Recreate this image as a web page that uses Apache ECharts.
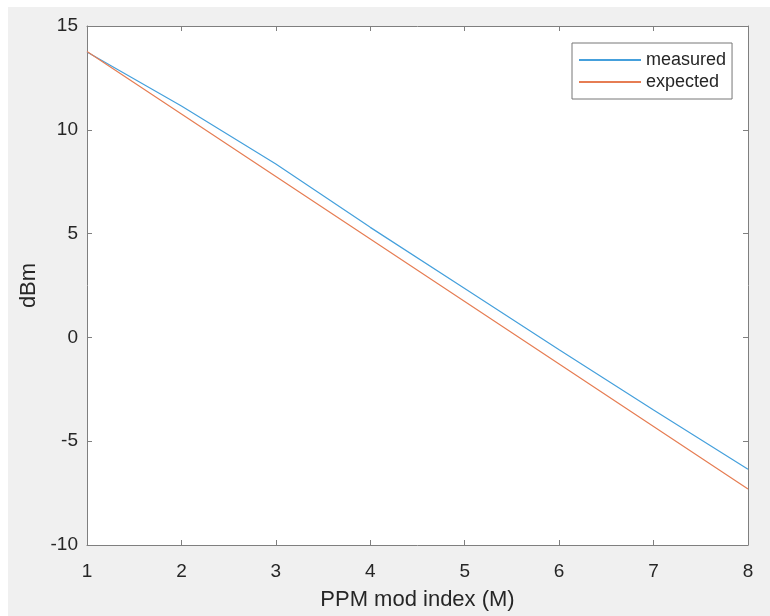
<!DOCTYPE html>
<html>
<head>
<meta charset="utf-8">
<script src="https://cdn.jsdelivr.net/npm/echarts@6/dist/echarts.min.js"></script>
<style>
  html, body { margin: 0; padding: 0; background: #fff; }
  #chartBox { width: 770px; height: 616px; }
</style>
</head>
<body>
<div id="chartBox"></div>
<script>
// data
const modIndex = [1, 2, 3, 4, 5, 6, 7, 8]
const measured = [13.75, 11.15, 8.35, 5.3, 2.35, -0.6, -3.5, -6.35]
const expected = [13.77, 10.76, 7.75, 4.74, 1.73, -1.28, -4.29, -7.3]
const xTicks = [1, 2, 3, 4, 5, 6, 7, 8]
const yTicks = [-10, -5, 0, 5, 10, 15]

const font = 'Liberation Sans, Arial, sans-serif'
const axisGray = '#7f7f7f'
const textDark = '#262626'

function pairs (ys) {
  return modIndex.map(function (x, i) { return [x, ys[i]] })
}

const myChart = echarts.init(document.getElementById('chartBox'))

const baseX = {
  type: 'value',
  min: xTicks[0],
  max: xTicks[xTicks.length - 1],
  interval: 1,
  splitLine: { show: false },
  axisLine: { show: true, onZero: false, lineStyle: { color: axisGray, width: 1 } },
  axisTick: { show: true, inside: true, length: 5, lineStyle: { color: axisGray } }
}
const baseY = {
  type: 'value',
  min: yTicks[0],
  max: yTicks[yTicks.length - 1],
  interval: 5,
  splitLine: { show: false },
  axisLine: { show: true, onZero: false, lineStyle: { color: axisGray, width: 1 } },
  axisTick: { show: true, inside: true, length: 5, lineStyle: { color: axisGray } }
}

myChart.setOption({
  backgroundColor: '#fff',
  animation: false,
  textStyle: { fontFamily: font },
  graphic: [{
    type: 'rect',
    z: -10,
    silent: true,
    shape: { x: 8, y: 7, width: 762, height: 609 },
    style: { fill: '#f0f0f0' }
  }],
  grid: {
    left: 87, right: 22, top: 26, bottom: 68,
    show: true, backgroundColor: '#fff', borderWidth: 0
  },
  legend: {
    orient: 'vertical',
    left: 572, top: 43,
    padding: [8, 6, 8, 6],
    itemGap: 4,
    itemWidth: 62,
    itemHeight: 16,
    backgroundColor: '#fff',
    borderColor: '#777',
    borderWidth: 1,
    itemStyle: { opacity: 0 },
    textStyle: { fontFamily: font, fontSize: 18, color: textDark, lineHeight: 18 },
    data: ['measured', 'expected']
  },
  xAxis: [
    Object.assign({}, baseX, {
      position: 'bottom',
      name: 'PPM mod index (M)',
      nameLocation: 'middle',
      nameGap: 44,
      nameTextStyle: { fontSize: 22, color: textDark, fontFamily: font },
      axisLabel: { fontSize: 19, color: textDark, margin: 17, fontFamily: font }
    }),
    Object.assign({}, baseX, { position: 'top', axisLabel: { show: false } })
  ],
  yAxis: [
    Object.assign({}, baseY, {
      position: 'left',
      name: 'dBm',
      nameLocation: 'middle',
      nameGap: 46,
      nameTextStyle: { fontSize: 22, color: textDark, fontFamily: font },
      axisLabel: { fontSize: 19, color: textDark, margin: 9, fontFamily: font }
    }),
    Object.assign({}, baseY, { position: 'right', axisLabel: { show: false } })
  ],
  series: [{
    name: 'measured',
    type: 'line',
    symbol: 'none',
    data: pairs(measured),
    lineStyle: { color: '#45a0dc', width: 1.2 },
    itemStyle: { color: '#45a0dc' }
  }, {
    name: 'expected',
    type: 'line',
    symbol: 'none',
    data: pairs(expected),
    lineStyle: { color: '#e67d53', width: 1.2 },
    itemStyle: { color: '#e67d53' }
  }]
})
</script>
</body>
</html>
